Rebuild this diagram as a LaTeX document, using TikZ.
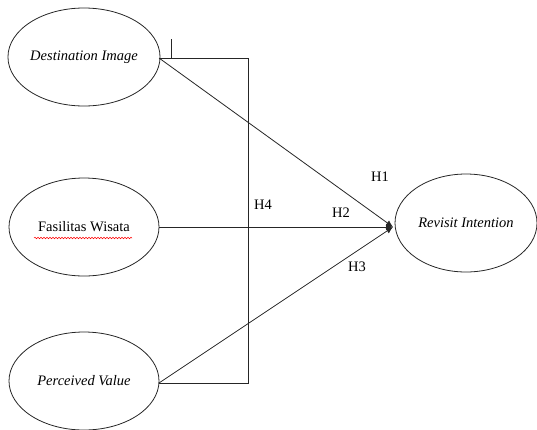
\documentclass[tikz,border=0pt]{standalone}
\usepackage{fontspec}
\setmainfont{Liberation Serif}
\usetikzlibrary{arrows.meta,decorations.pathmorphing,shapes.geometric}
\begin{document}
\begin{tikzpicture}[x=1pt,y=-1pt,
  var/.style={draw=black!85,line width=0.8pt,ellipse,minimum width=150pt,minimum height=98pt,inner sep=0pt,font=\fontsize{14.5}{16}\selectfont},
  conn/.style={line width=0.8pt,draw=black!85},
  arr/.style={conn,-{Latex[length=7pt,width=6pt]}},
  lbl/.style={font=\fontsize{14.5}{16}\selectfont,inner sep=1pt}]
\useasboundingbox (0,0) rectangle (537,429);
\node[var] (di) at (84,57) {\itshape Destination Image};
\node[var] (fw) at (84,227) {Fasilitas Wisata};
\node[var] (pv) at (84,381) {\itshape Perceived Value};
\node[var,minimum width=142pt] (ri) at (466,223) {\itshape Revisit Intention};
\coordinate (tip) at (393,227);
\coordinate (tr) at (248,58);
\coordinate (br) at (248,383);
\coordinate (tkA) at (171,39);
\coordinate (tkB) at (171,58);
\coordinate (diE) at (159,58);
\coordinate (fwE) at (159,227);
\coordinate (pvE) at (159,383);
\draw[arr] (diE) -- (tip);
\draw[arr] (fwE) -- (tip);
\draw[arr] (pvE) -- (tip);
\draw[conn] (diE) -- (tr) -- (br) -- (pvE);
\draw[conn] (tkA) -- (tkB);
\draw[red,line width=0.5pt,decorate,decoration={snake,amplitude=0.8pt,segment length=3pt}] (34,238) -- (132,238);
\node[lbl] (h1) at (380,177) {H1};
\node[lbl] (h2) at (341,213) {H2};
\node[lbl] (h3) at (357,267) {H3};
\node[lbl] (h4) at (263,205) {H4};
\end{tikzpicture}
\end{document}
